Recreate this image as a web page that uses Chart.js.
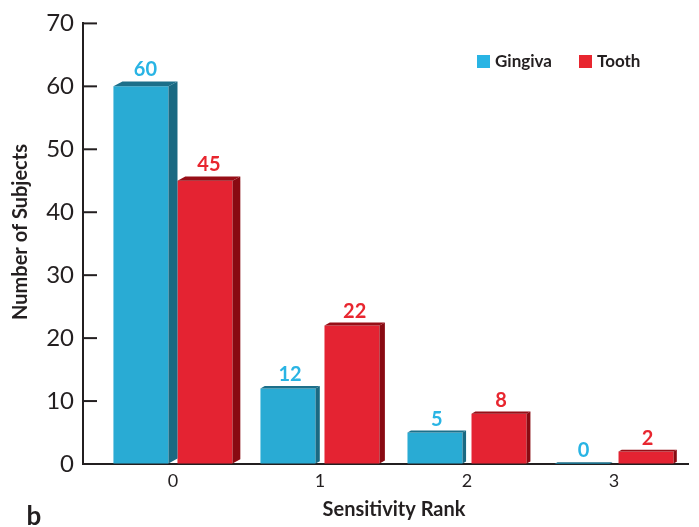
<!DOCTYPE html>
<html>
<head>
<meta charset="utf-8">
<script src="https://cdn.jsdelivr.net/npm/chart.js@4.4.1/dist/chart.umd.min.js"></script>
<style>
    html, body { margin: 0; padding: 0; background: #fff; }
    canvas { display: block; }
</style>
</head>
<body>
<canvas id="rankChart" width="699" height="527"></canvas>
<script>
// data
const ranks = ['0', '1', '2', '3'];
const gingiva = [60, 12, 5, 0];
const tooth = [45, 22, 8, 2];
const yTicks = [0, 10, 20, 30, 40, 50, 60, 70];

const FONT = 'Lato, "Open Sans", sans-serif';
const INK = '#231f20';

const palette = [
    { front: '#29abd4', top: '#1c6f8a', side: '#1a6982', label: '#29b4e4' },
    { front: '#e42332', top: '#970e17', side: '#890a12', label: '#e8262f' }
];

// fake 3D: top face + side face for every bar, depth grows a little with height
const bars3d = {
    id: 'bars3d',
    afterDatasetDraw(chart, args) {
        const ctx = chart.ctx;
        const col = palette[args.index];
        const values = chart.data.datasets[args.index].data;
        args.meta.data.forEach((bar, i) => {
            const { x, y, base, width } = bar.getProps(['x', 'y', 'base', 'width'], true);
            const x1 = x - width / 2;
            const x2 = x + width / 2;
            const h = base - y;
            const dx = Math.min(9, 3 + h * 0.017);
            const dy = dx * 0.55;

            ctx.save();
            ctx.fillStyle = col.side;
            ctx.beginPath();
            ctx.moveTo(x2, y);
            ctx.lineTo(x2 + dx, y - dy);
            ctx.lineTo(x2 + dx, base - dy);
            ctx.lineTo(x2, base);
            ctx.closePath();
            ctx.fill();

            ctx.fillStyle = col.top;
            ctx.beginPath();
            ctx.moveTo(x1, y);
            ctx.lineTo(x2, y);
            ctx.lineTo(x2 + dx, y - dy);
            ctx.lineTo(x1 + dx, y - dy);
            ctx.closePath();
            ctx.fill();

            ctx.fillStyle = col.label;
            ctx.font = 'bold 20px ' + FONT;
            ctx.textAlign = 'center';
            ctx.textBaseline = 'alphabetic';
            ctx.fillText(String(values[i]), x + dx / 2, y - dy - 5);
            ctx.restore();
        });
    }
};

// inner ticks, legend, axis titles and panel letter
const decorations = {
    id: 'decorations',
    afterDraw(chart) {
        const ctx = chart.ctx;
        const area = chart.chartArea;
        const yScale = chart.scales.y;
        ctx.save();

        ctx.strokeStyle = INK;
        ctx.lineWidth = 2;
        yTicks.forEach(v => {
            if (v === 0) return;
            const py = yScale.getPixelForValue(v);
            ctx.beginPath();
            ctx.moveTo(area.left, py);
            ctx.lineTo(area.left + 14, py);
            ctx.stroke();
        });

        // legend
        const lx = [477, 579];
        chart.data.datasets.forEach((ds, i) => {
            ctx.fillStyle = palette[i].label;
            ctx.fillRect(lx[i], 55, 13, 13);
            ctx.fillStyle = INK;
            ctx.font = 'bold 17px ' + FONT;
            ctx.textAlign = 'left';
            ctx.textBaseline = 'middle';
            ctx.fillText(ds.label, lx[i] + 18, 62);
        });

        ctx.fillStyle = INK;
        ctx.font = 'bold 20px ' + FONT;
        ctx.textAlign = 'center';
        ctx.textBaseline = 'middle';
        ctx.fillText('Sensitivity Rank', 394, 510);

        ctx.save();
        ctx.translate(21, 232);
        ctx.rotate(-Math.PI / 2);
        ctx.fillText('Number of Subjects', 0, 0);
        ctx.restore();

        ctx.font = 'bold 26px ' + FONT;
        ctx.textBaseline = 'alphabetic';
        ctx.fillText('b', 34, 525);
        ctx.restore();
    }
};

new Chart(document.getElementById('rankChart'), {
    type: 'bar',
    data: {
        labels: ranks,
        datasets: [
            {
                label: 'Gingiva',
                data: gingiva,
                backgroundColor: palette[0].front,
                categoryPercentage: 0.871,
                barPercentage: 0.86,
            },
            {
                label: 'Tooth',
                data: tooth,
                backgroundColor: palette[1].front,
                categoryPercentage: 0.871,
                barPercentage: 0.86,
            }
        ]
    },
    options: {
        responsive: false,
        animation: false,
        layout: {
            padding: { top: 18, right: 11, bottom: 0, left: 0 }
        },
        scales: {
            x: {
                type: 'linear',
                offset: false,
                min: -0.612,
                max: 3.503,
                afterBuildTicks: scale => {
                    scale.ticks = ranks.map(r => ({ value: Number(r) }));
                },
                afterFit: scale => { scale.height = 63; },
                grid: { drawOnChartArea: false, drawTicks: false, offset: false },
                border: { display: true, color: INK, width: 2 },
                ticks: {
                    color: INK,
                    padding: 6,
                    font: { family: FONT, size: 18 },
                    callback: v => String(v)
                }
            },
            y: {
                min: 0,
                max: 70,
                afterBuildTicks: scale => {
                    scale.ticks = yTicks.map(v => ({ value: v }));
                },
                afterFit: scale => { scale.width = 83; },
                grid: { drawOnChartArea: false, drawTicks: false },
                border: { display: true, color: INK, width: 2 },
                ticks: {
                    color: INK,
                    padding: 9,
                    font: { family: FONT, size: 24 }
                }
            }
        },
        plugins: {
            legend: { display: false },
            tooltip: { enabled: false }
        }
    },
    plugins: [bars3d, decorations]
});
</script>
</body>
</html>
